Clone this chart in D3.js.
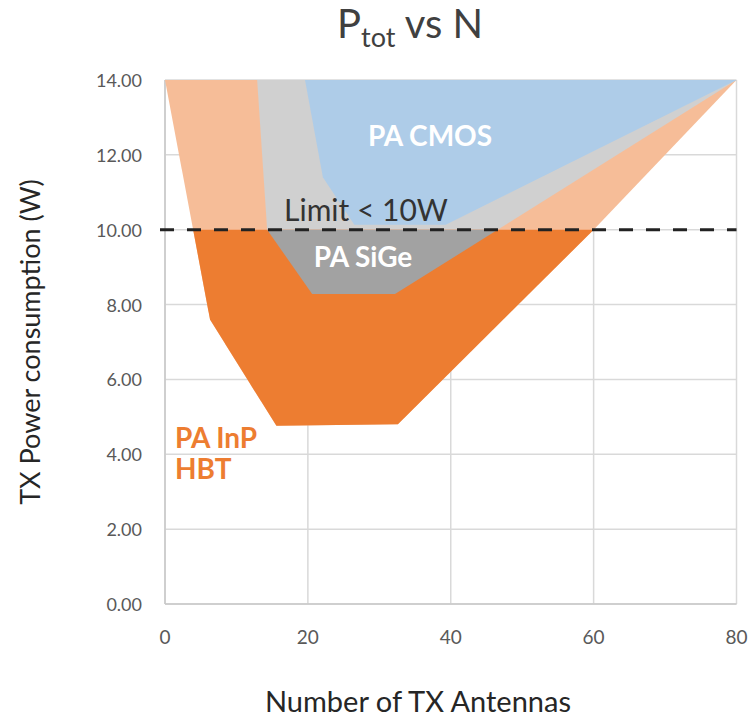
<!DOCTYPE html>
<html><head><meta charset="utf-8">
<script src="https://cdn.jsdelivr.net/npm/d3@7"></script>
<style>body{margin:0;background:#fff}</style>
</head><body>
<svg id="c" width="752" height="720"></svg>
<script>
const xTicks = [0, 20, 40, 60, 80];
const yTicks = [0, 2, 4, 6, 8, 10, 12, 14];
const inpN  = [0, 6.3, 15.6, 32.6, 60, 80];
const inpW  = [14, 7.6, 4.76, 4.8, 10, 14];
const sigeN = [12.9, 14.3, 20.6, 32.2, 80];
const sigeW = [14, 10, 8.28, 8.28, 14];
const cmosN = [19.6, 22.1, 26.5, 39.3, 80];
const cmosW = [14, 11.4, 10.13, 10.13, 14];
const limitW = 10;

const svg = d3.select("#c");
const x = d3.scaleLinear().domain([0, 80]).range([165, 736.5]);
const y = d3.scaleLinear().domain([0, 14]).range([604, 80]);
const font = "Lato, 'Open Sans', sans-serif";

// gridlines
svg.append("g").selectAll("line").data(yTicks).join("line")
  .attr("x1", x(0)).attr("x2", x(80)).attr("y1", d => y(d)).attr("y2", d => y(d))
  .attr("stroke", "#d9d9d9").attr("stroke-width", 1.5);
svg.append("g").selectAll("line").data(xTicks).join("line")
  .attr("y1", y(0)).attr("y2", y(14)).attr("x1", d => x(d)).attr("x2", d => x(d))
  .attr("stroke", "#d9d9d9").attr("stroke-width", 1.5);
svg.append("line").attr("x1", x(0)).attr("x2", x(80)).attr("y1", y(0)).attr("y2", y(0))
  .attr("stroke", "#c8c8c8").attr("stroke-width", 1.5);
svg.append("line").attr("x1", x(0)).attr("x2", x(0)).attr("y1", y(0)).attr("y2", y(14))
  .attr("stroke", "#c8c8c8").attr("stroke-width", 1.5);

// tick labels
svg.append("g").selectAll("text").data(yTicks).join("text")
  .attr("x", 142).attr("y", d => y(d) + 7).attr("text-anchor", "end")
  .attr("font-family", font).attr("font-size", 18).attr("fill", "#595959")
  .text(d => d.toFixed(2));
svg.append("g").selectAll("text").data(xTicks).join("text")
  .attr("x", d => x(d)).attr("y", 644).attr("text-anchor", "middle")
  .attr("font-family", font).attr("font-size", 19).attr("fill", "#595959")
  .text(d => d);

const line = d3.line().x(d => x(d[0])).y(d => y(d[1]));
const pts = (N, W) => N.map((n, i) => [n, W[i]]);

svg.append("defs").append("clipPath").attr("id", "below")
  .append("rect").attr("x", x(0)).attr("y", y(limitW)).attr("width", x(80) - x(0)).attr("height", y(0) - y(limitW));

svg.append("path").attr("d", line(pts(inpN, inpW)) + "Z").attr("fill", "#F6BD98");
svg.append("path").attr("d", line(pts(sigeN, sigeW)) + "Z").attr("fill", "#D0D0D0");
svg.append("path").attr("d", line(pts(cmosN, cmosW)) + "Z").attr("fill", "#AECCE8");
svg.append("path").attr("d", line(pts(inpN, inpW)) + "Z").attr("fill", "#ED7D31").attr("clip-path", "url(#below)");
svg.append("path").attr("d", line(pts(sigeN, sigeW)) + "Z").attr("fill", "#A2A2A2").attr("clip-path", "url(#below)");

// limit line
svg.append("line").attr("x1", 160).attr("x2", x(80)).attr("y1", y(limitW)).attr("y2", y(limitW))
  .attr("stroke", "#222").attr("stroke-width", 3).attr("stroke-dasharray", "14,13");

// labels
svg.append("text").attr("x", 366).attr("y", 221).attr("text-anchor", "middle")
  .attr("font-family", font).attr("font-size", 30).attr("fill", "#333").text("Limit < 10W");
svg.append("text").attr("x", 430).attr("y", 146).attr("text-anchor", "middle")
  .attr("font-family", font).attr("font-weight", "bold").attr("font-size", 28).attr("fill", "#fff").text("PA CMOS");
svg.append("text").attr("x", 363).attr("y", 267).attr("text-anchor", "middle")
  .attr("font-family", font).attr("font-weight", "bold").attr("font-size", 28).attr("fill", "#fff").text("PA SiGe");
svg.append("text").attr("x", 175).attr("y", 448)
  .attr("font-family", font).attr("font-weight", "bold").attr("font-size", 28).attr("fill", "#ED7D31").text("PA InP");
svg.append("text").attr("x", 175).attr("y", 479)
  .attr("font-family", font).attr("font-weight", "bold").attr("font-size", 28).attr("fill", "#ED7D31").text("HBT");

// title
const t = svg.append("text").attr("x", 410).attr("y", 38).attr("text-anchor", "middle")
  .attr("font-family", font).attr("font-size", 40).attr("fill", "#404040");
t.append("tspan").text("P");
t.append("tspan").attr("font-size", 27).attr("dy", 9).text("tot");
t.append("tspan").attr("dy", -9).text(" vs N");

// axis titles
svg.append("text").attr("x", 418).attr("y", 712).attr("text-anchor", "middle")
  .attr("font-family", font).attr("font-size", 29).attr("fill", "#262626").text("Number of TX Antennas");
svg.append("text").attr("transform", "translate(40,342) rotate(-90)").attr("text-anchor", "middle")
  .attr("font-family", font).attr("font-size", 27).attr("fill", "#262626").text("TX Power consumption (W)");
</script>
</body></html>
